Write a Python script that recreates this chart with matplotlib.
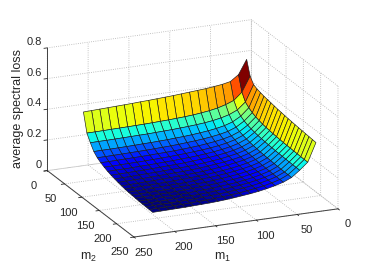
import matplotlib
matplotlib.use('Agg')
import matplotlib.pyplot as plt
import numpy as np

plt.rcParams['font.family'] = ['Liberation Sans', 'DejaVu Sans']
plt.rcParams['mathtext.default'] = 'regular'
plt.rcParams['grid.linestyle'] = ':'

m_values = list(range(10, 220, 10))

# average spectral loss x 1000, rows are m2 = 10..210, columns are m1 = 10..210
loss_milli = [
    [566, 474, 436, 425, 418, 412, 408, 404, 400, 396, 393, 390, 387, 385, 382, 380, 378, 376, 374, 372, 370],
    [474, 377, 330, 310, 295, 285, 278, 272, 268, 265, 262, 260, 258, 256, 255, 254, 253, 252, 251, 250, 250],
    [436, 330, 285, 262, 248, 238, 231, 226, 222, 219, 216, 214, 212, 210, 209, 208, 207, 206, 205, 205, 204],
    [425, 310, 262, 232, 215, 204, 196, 190, 185, 181, 178, 175, 173, 171, 170, 168, 167, 166, 165, 165, 164],
    [418, 295, 248, 215, 195, 183, 175, 168, 163, 159, 155, 152, 150, 148, 146, 145, 144, 143, 142, 141, 141],
    [412, 285, 238, 204, 183, 170, 161, 154, 148, 144, 140, 137, 135, 133, 131, 130, 129, 128, 127, 126, 126],
    [408, 278, 231, 196, 175, 161, 151, 144, 138, 134, 130, 127, 124, 122, 120, 118, 117, 116, 115, 114, 114],
    [404, 272, 226, 190, 168, 154, 144, 136, 130, 125, 121, 118, 115, 113, 111, 109, 108, 106, 105, 105, 104],
    [400, 268, 222, 185, 163, 148, 138, 130, 124, 119, 115, 111, 108, 106, 104, 102, 100, 99, 98, 97, 96],
    [396, 265, 219, 181, 159, 144, 134, 125, 119, 113, 109, 105, 102, 100, 98, 96, 94, 93, 91, 90, 90],
    [393, 262, 216, 178, 155, 140, 130, 121, 115, 109, 104, 100, 97, 95, 93, 91, 89, 87, 86, 85, 84],
    [390, 260, 214, 175, 152, 137, 127, 118, 111, 105, 100, 96, 93, 91, 88, 86, 84, 83, 81, 80, 79],
    [387, 258, 212, 173, 150, 135, 124, 115, 108, 102, 97, 93, 90, 87, 85, 83, 81, 79, 78, 77, 75],
    [385, 256, 210, 171, 148, 133, 122, 113, 106, 100, 95, 91, 87, 84, 82, 80, 78, 76, 75, 73, 72],
    [382, 255, 209, 170, 146, 131, 120, 111, 104, 98, 93, 88, 85, 82, 80, 77, 75, 74, 72, 71, 70],
    [380, 254, 208, 168, 145, 130, 118, 109, 102, 96, 91, 86, 83, 80, 77, 75, 73, 72, 70, 69, 68],
    [378, 253, 207, 167, 144, 129, 117, 108, 100, 94, 89, 84, 81, 78, 75, 73, 71, 70, 68, 67, 66],
    [376, 252, 206, 166, 143, 128, 116, 106, 99, 93, 87, 83, 79, 76, 74, 72, 70, 68, 67, 66, 65],
    [374, 251, 205, 165, 142, 127, 115, 105, 98, 91, 86, 81, 78, 75, 72, 70, 68, 67, 66, 65, 64],
    [372, 250, 205, 165, 141, 126, 114, 105, 97, 90, 85, 80, 77, 73, 71, 69, 67, 66, 65, 64, 63],
    [370, 250, 204, 164, 141, 126, 114, 104, 96, 90, 84, 79, 75, 72, 70, 68, 66, 65, 64, 63, 62],
]

m_ticks = [0, 50, 100, 150, 200, 250]
z_ticks = [0, 0.2, 0.4, 0.6, 0.8]
z_tick_labels = ['0', '0.2', '0.4', '0.6', '0.8']

m1, m2 = np.meshgrid(m_values, m_values)
loss = np.array(loss_milli) / 1000

jet = plt.get_cmap('jet', 64)
face_colors = jet((loss - loss.min()) / (loss.max() - loss.min()))

fig = plt.figure(figsize=(3.74, 2.70), dpi=100)
ax = fig.add_axes([(189 - 135) / 374, (138 - 135) / 270, 270 / 374, 1.0], projection='3d')
ax.set_proj_type('ortho')
ax.view_init(elev=19, azim=67)
ax.set_box_aspect((222, 222, 130), zoom=1.22)
ax.patch.set_alpha(0)

ax.plot_surface(m1, m2, loss, rstride=1, cstride=1, facecolors=face_colors,
                edgecolor='#1a1a1a', linewidth=0.45, shade=False, antialiased=True)

ax.set_xlim(0, 250, view_margin=0)
ax.set_ylim(0, 250, view_margin=0)
ax.set_zlim(0, 0.8, view_margin=0)
ax.set_xticks(m_ticks)
ax.set_yticks(m_ticks)
ax.set_zticks(z_ticks)
ax.set_zticklabels(z_tick_labels, ha='right', va='bottom')

for axis in (ax.xaxis, ax.yaxis, ax.zaxis):
    axis.set_pane_color((1, 1, 1, 0))
    axis.pane.set_edgecolor((1, 1, 1, 0))
    axis.line.set_color('#404040')
    axis.line.set_linewidth(0.7)
    axis._axinfo['grid'].update(color='#b0b0b0', linewidth=0.6, linestyle=':')
    axis._axinfo['tick'].update(inward_factor=0.2, outward_factor=0.0)
    axis._axinfo['tick']['linewidth'] = {True: 0.6, False: 0.6}

ax.tick_params(axis='x', labelsize=8, colors='#262626', pad=3, length=3)
ax.tick_params(axis='y', labelsize=8, colors='#262626', pad=-1, length=3)
ax.tick_params(axis='z', labelsize=8, colors='#262626', pad=-6, length=3)
for label in ax.get_xticklabels():
    label.set_va('bottom')

fig.text(223 / 374, 1 - 257 / 270, 'm$_1$', fontsize=9, ha='center', va='center', color='#262626')
fig.text(88 / 374, 1 - 257 / 270, 'm$_2$', fontsize=9, ha='center', va='center', color='#262626')
fig.text(18 / 374, 1 - 108 / 270, 'average spectral loss', fontsize=9, rotation=90,
         ha='center', va='center', color='#262626')

fig.savefig('out.png', dpi=100)
